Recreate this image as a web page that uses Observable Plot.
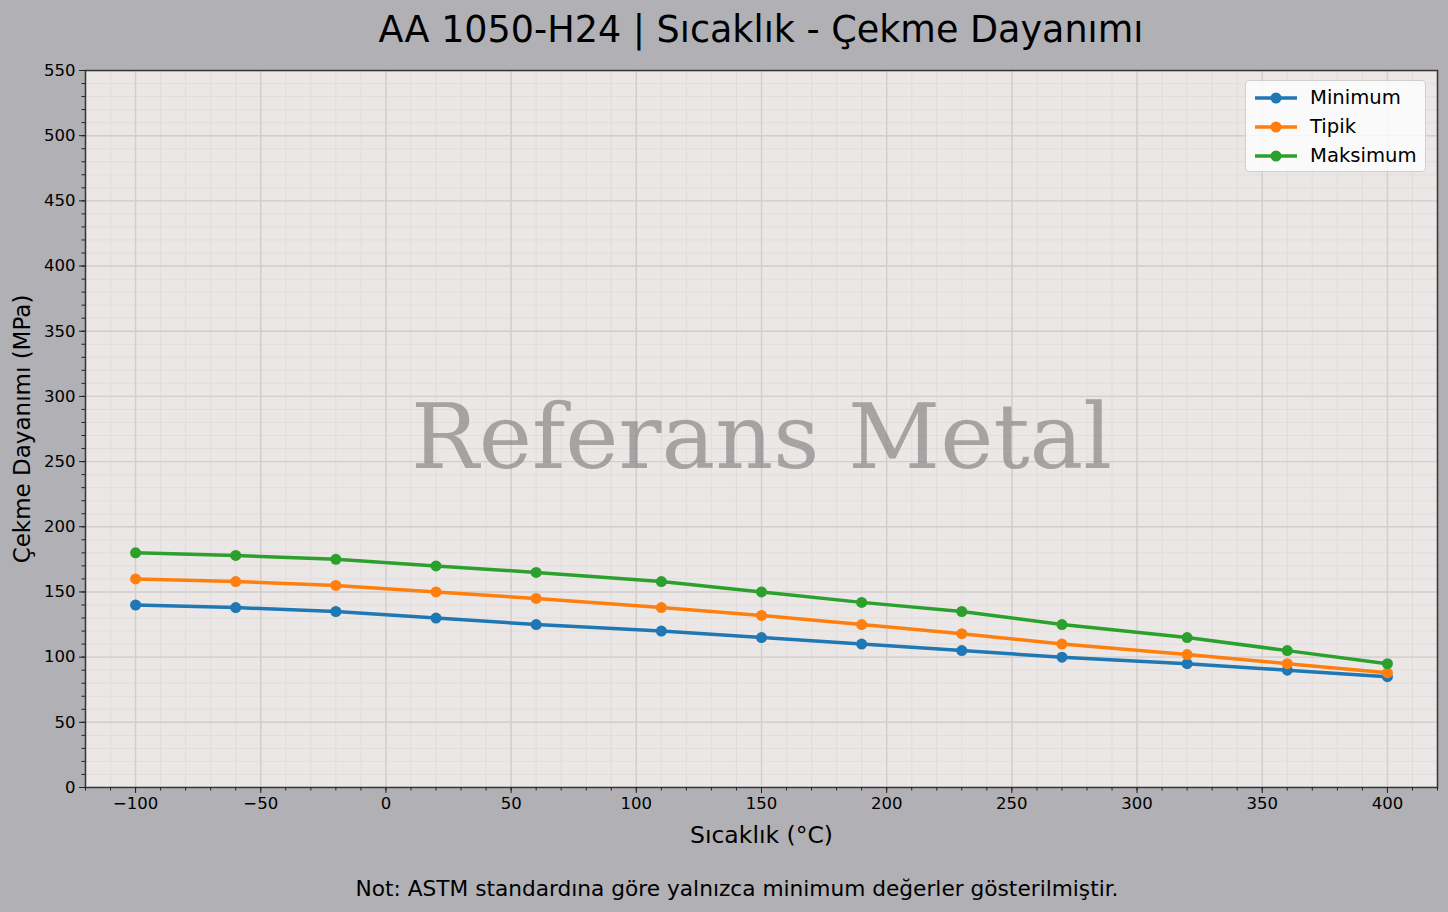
<!DOCTYPE html>
<html>
<head>
<meta charset="utf-8">
<script src="https://cdn.jsdelivr.net/npm/d3@7"></script>
<script src="https://cdn.jsdelivr.net/npm/@observablehq/plot@0.6"></script>
<style>
  html, body { margin: 0; padding: 0; background: #b1b0b5; }
  body { font-family: "DejaVu Sans", sans-serif; color: #000; }
  #fig { position: relative; width: 1448px; height: 912px; background: #b1b0b5; overflow: hidden; }
  #title { position: absolute; left: 61px; top: 0; width: 1400px; height: 60px; line-height: 60px; text-align: center; font-size: 36.5px; white-space: nowrap; }
  #chart { position: absolute; left: 0; top: 60px; }
  #caption { position: absolute; left: 13px; top: 875px; width: 1448px; text-align: center; font-size: 21.7px; line-height: 28px; white-space: nowrap; }
  #legend { position: absolute; left: 1245px; top: 80px; width: 181px; height: 92px; box-sizing: border-box;
            background: rgba(255,255,255,0.8); border: 1px solid #cfcfcf; border-radius: 4px; }
  .lg-row { position: absolute; left: 0; height: 20px; width: 100%; }
  .lg-row svg { position: absolute; left: 7px; top: 0; }
  .lg-row span { position: absolute; left: 64px; top: -1px; font-size: 19.6px; line-height: 22px; white-space: nowrap; }
</style>
</head>
<body>
<div id="fig">
  <div id="title"></div>
  <div id="chart"></div>
  <div id="legend"></div>
  <div id="caption"></div>
</div>
<script>
// ---- Data ----
const titleText = "AA 1050-H24 | Sıcaklık - Çekme Dayanımı";
const xLabel = "Sıcaklık (°C)";
const yLabel = "Çekme Dayanımı (MPa)";
const captionText = "Not: ASTM standardına göre yalnızca minimum değerler gösterilmiştir.";
const watermark = "Referans Metal";

const temperatures = [-100, -60, -20, 20, 60, 110, 150, 190, 230, 270, 320, 360, 400];
const minimum  = [140, 138, 135, 130, 125, 120, 115, 110, 105, 100, 95, 90, 85];
const tipik    = [160, 158, 155, 150, 145, 138, 132, 125, 118, 110, 102, 95, 88];
const maksimum = [180, 178, 175, 170, 165, 158, 150, 142, 135, 125, 115, 105, 95];

const seriesNames  = ["Minimum", "Tipik", "Maksimum"];
const seriesColors = ["#1f77b4", "#ff7f0e", "#2ca02c"];

const xTicks = [-100, -50, 0, 50, 100, 150, 200, 250, 300, 350, 400];
const yTicks = [0, 50, 100, 150, 200, 250, 300, 350, 400, 450, 500, 550];
const xMinorTicks = d3.range(-120, 421, 10);
const yMinorTicks = d3.range(0, 551, 10);

// ---- Build table ----
const seriesValues = [minimum, tipik, maksimum];
const rows = [];
seriesNames.forEach((name, s) => {
  temperatures.forEach((t, i) => rows.push({series: name, t, v: seriesValues[s][i]}));
});

const fmt = d => d < 0 ? "\u2212" + Math.abs(d) : String(d);

const chart = Plot.plot({
  width: 1448,
  height: 800,
  marginLeft: 85,
  marginRight: 11,
  marginTop: 10,
  marginBottom: 73,
  style: { background: "transparent", fontFamily: "DejaVu Sans, sans-serif", fontSize: "16.5px", color: "#222" },
  x: { domain: [-120, 420], label: null },
  y: { domain: [0, 550], label: null },
  color: { domain: seriesNames, range: seriesColors },
  marks: [
    Plot.frame({ fill: "#ebe7e6", stroke: null }),
    Plot.ruleX(xMinorTicks, { stroke: "#dedad9", strokeWidth: 0.8 }),
    Plot.ruleY(yMinorTicks, { stroke: "#dedad9", strokeWidth: 0.8 }),
    Plot.ruleX(xTicks, { stroke: "#d2cecd", strokeWidth: 1.4 }),
    Plot.ruleY(yTicks, { stroke: "#d2cecd", strokeWidth: 1.4 }),
    Plot.text([watermark], { frameAnchor: "middle", dy: 10, fontFamily: "DejaVu Serif, serif", fontSize: 90, fill: "#7f7f7f", fillOpacity: 0.65 }),
    Plot.line(rows, { x: "t", y: "v", z: "series", stroke: "series", strokeWidth: 3.5 }),
    Plot.dot(rows, { x: "t", y: "v", fill: "series", r: 5.5, stroke: null }),
    Plot.frame({ stroke: "#333", strokeWidth: 1.5 }),
    Plot.axisX({ ticks: xTicks, tickSize: 6, tickPadding: 4, tickFormat: fmt, label: null, fontSize: 16.5, fill: "#000" }),
    Plot.axisX({ ticks: xMinorTicks, tickSize: 3.5, tickFormat: () => "", label: null }),
    Plot.axisY({ ticks: yTicks, tickSize: 6, tickPadding: 4, tickFormat: fmt, label: null, fontSize: 16.5, fill: "#000" }),
    Plot.axisY({ ticks: yMinorTicks, tickSize: 3.5, tickFormat: () => "", label: null }),
    Plot.text([xLabel], { frameAnchor: "bottom", dy: 55, fontSize: 23.5, fill: "#000" }),
    Plot.text([yLabel], { frameAnchor: "left", dx: -63, rotate: -90, textAnchor: "middle", fontSize: 23, fill: "#000" })
  ]
});
document.getElementById("chart").appendChild(chart);

document.getElementById("title").textContent = titleText;
document.getElementById("caption").textContent = captionText;

// ---- Legend ----
const legend = document.getElementById("legend");
seriesNames.forEach((name, i) => {
  const row = document.createElement("div");
  row.className = "lg-row";
  row.style.top = (7 + i * 29) + "px";
  row.innerHTML = `<svg width="46" height="20"><line x1="2" x2="44" y1="10" y2="10" stroke="${seriesColors[i]}" stroke-width="3.5"/><circle cx="23" cy="10" r="5.5" fill="${seriesColors[i]}"/></svg><span>${name}</span>`;
  legend.appendChild(row);
});
</script>
</body>
</html>
